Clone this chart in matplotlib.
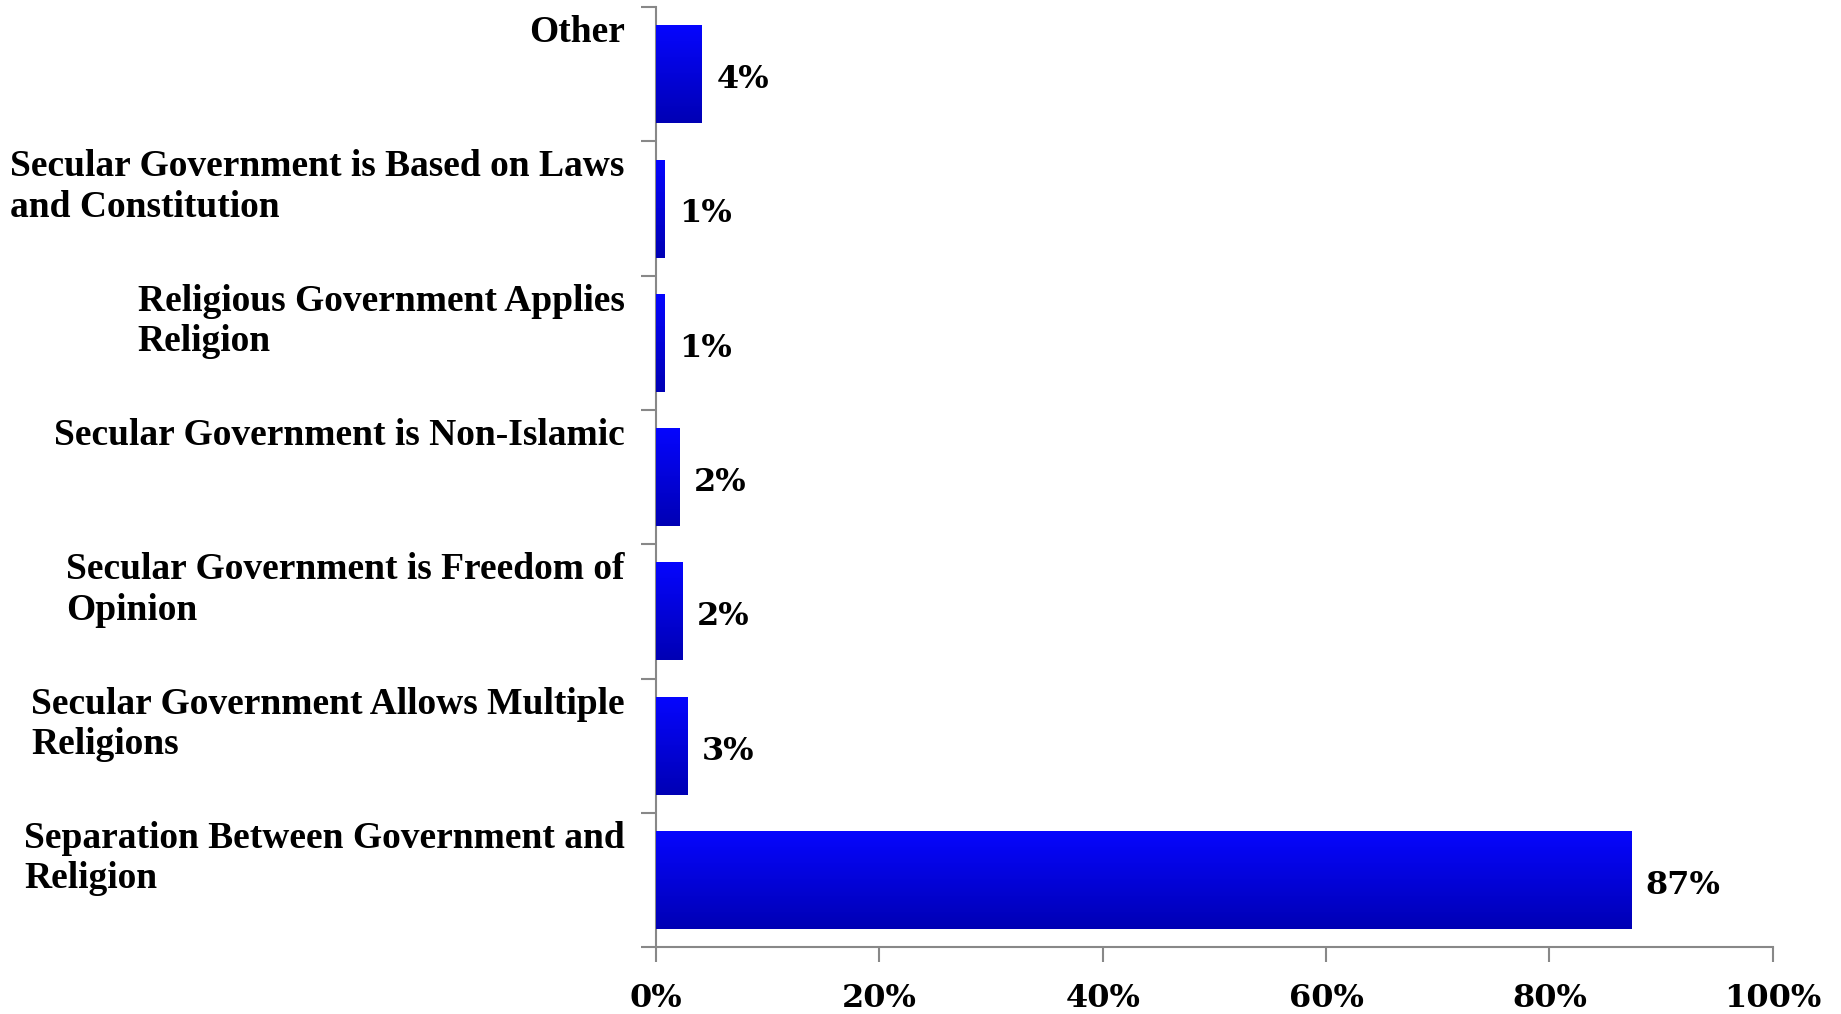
import numpy as np
import matplotlib
matplotlib.use('Agg')
import matplotlib.pyplot as plt
from matplotlib.colors import LinearSegmentedColormap

# categories, top to bottom as in the chart
categories = ['Other',
              'Secular Government is Based on Laws\nand Constitution',
              'Religious Government Applies\nReligion',
              'Secular Government is Non-Islamic',
              'Secular Government is Freedom of\nOpinion',
              'Secular Government Allows Multiple\nReligions',
              'Separation Between Government and\nReligion']
values = [4.1, 0.8, 0.8, 2.1, 2.4, 2.8, 87.3]
value_labels = ['4%', '1%', '1%', '2%', '2%', '3%', '87%']
xticks = [0, 20, 40, 60, 80, 100]

fig = plt.figure(figsize=(18.41, 10.14), dpi=100)
ax = fig.add_axes([0.3563, 0.066, 0.6067, 0.927])

y = np.arange(len(categories))
bars = ax.barh(y, values, height=0.73, color='#0000e0', zorder=2)

cmap = LinearSegmentedColormap.from_list('g', ['#0606ff', '#0000b4'])
grad = np.linspace(0, 1, 256).reshape(-1, 1)
for b in bars:
    x0, y0, w, h = b.get_x(), b.get_y(), b.get_width(), b.get_height()
    im = ax.imshow(grad, extent=(x0, x0 + w, y0 + h, y0), origin='upper',
                   aspect='auto', cmap=cmap, zorder=3)
    im.set_clip_path(b)

for yi, v, lab in zip(y, values, value_labels):
    ax.text(v + 1.3, yi + 0.04, lab, va='center', ha='left',
            fontsize=23, fontweight='bold', family='DejaVu Serif')

# category labels: right-aligned block, lines left-aligned, hung from the top
for yi, cat in zip(y, categories):
    ax.text(-0.028, yi - 0.44, cat, transform=ax.get_yaxis_transform(),
            ha='right', va='top', multialignment='left', linespacing=1.2,
            family='Liberation Serif', fontweight='bold', fontsize=27)

ax.set_xlim(0, 100)
ax.set_ylim(len(categories) - 0.5, -0.5)

ax.set_yticks([])
ax.set_yticks(np.arange(-0.5, len(categories), 1), minor=True)
ax.tick_params(axis='y', which='minor', length=11, width=1.5, color='#888888')

ax.set_xticks(xticks)
ax.set_xticklabels([f'{t}%' for t in xticks], family='DejaVu Serif',
                   fontweight='bold', fontsize=23)
ax.tick_params(axis='x', length=11, width=1.5, color='#888888', pad=15)

for s in ['top', 'right']:
    ax.spines[s].set_visible(False)
for s in ['left', 'bottom']:
    ax.spines[s].set_color('#888888')
    ax.spines[s].set_linewidth(1.5)

fig.savefig('out.png', dpi=100)
